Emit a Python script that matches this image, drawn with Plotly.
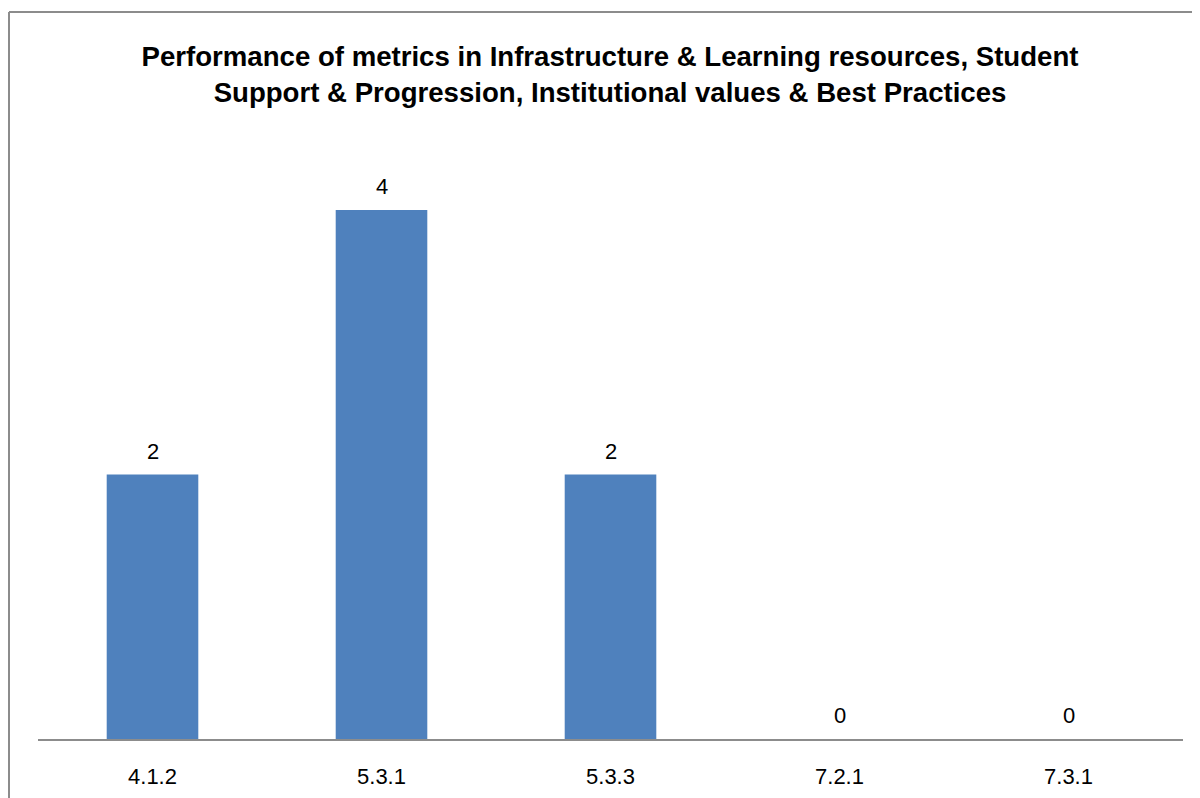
import plotly.graph_objects as go

categories = ["4.1.2", "5.3.1", "5.3.3", "7.2.1", "7.3.1"]
values = [2, 4, 2, 0, 0]
title_text = ("Performance of metrics in Infrastructure & Learning resources, Student<br>"
              "Support & Progression, Institutional values & Best Practices")

FONT = "Liberation Sans, Arial, sans-serif"

fig = go.Figure()
fig.add_trace(go.Bar(x=categories, y=values, marker=dict(color="#4F81BD", line=dict(width=0)),
                     width=0.4, hoverinfo="skip"))

for c, v in zip(categories, values):
    fig.add_annotation(x=c, y=v, text=str(v), showarrow=False, yanchor="bottom", yshift=9,
                       font=dict(family=FONT, size=22, color="#000"))

W, H = 1192, 790
L, R, T, B = 30, 17, 136, 59
pw = W - L - R
ph = H - T - B

xl = (1 - L) / pw          # frame left edge (page x = 9)
yt = (ph + 132) / ph       # frame top edge (page y = 12)

fig.update_layout(
    width=W, height=H,
    margin=dict(l=L, r=R, t=T, b=B, autoexpand=False),
    paper_bgcolor="white", plot_bgcolor="white",
    showlegend=False,
    title=dict(text=title_text, x=(610 - 8) / W, xanchor="center", y=1 - 58 / H, yanchor="top",
               font=dict(family=FONT, size=27.6, color="#000", weight="bold")),
    xaxis=dict(showgrid=False, showline=True, linecolor="#8c8c8c", linewidth=2,
               ticks="", tickfont=dict(family=FONT, size=22, color="#000"),
               ticklabelstandoff=17, automargin=False),
    yaxis=dict(range=[0, 4.5], visible=False, showgrid=False, zeroline=False, automargin=False),
    shapes=[
        dict(type="line", xref="paper", yref="paper", x0=xl, x1=1.1, y0=yt, y1=yt,
             line=dict(color="#8c8c8c", width=2)),
        dict(type="line", xref="paper", yref="paper", x0=xl, x1=xl, y0=-0.2, y1=yt,
             line=dict(color="#8c8c8c", width=2)),
    ],
)

fig.write_html("out.html")
